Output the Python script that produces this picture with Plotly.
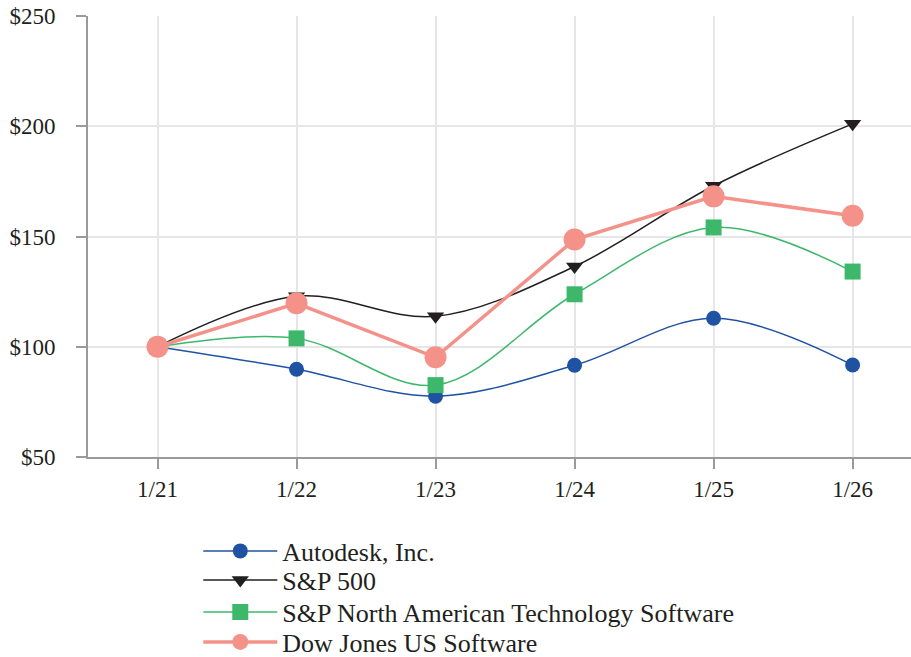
import plotly.graph_objects as go

years = ["1/21", "1/22", "1/23", "1/24", "1/25", "1/26"]
autodesk = [100, 89.8, 77.6, 91.6, 112.9, 91.7]
sp500 = [100, 122.9, 113.8, 136.4, 173.0, 201.1]
sp_na_tech = [100, 103.8, 82.6, 123.8, 154.1, 134.1]
dj_software = [100, 119.7, 95.2, 148.6, 168.2, 159.4]
y_ticks = [50, 100, 150, 200, 250]
y_tick_labels = ["$50", "$100", "$150", "$200", "$250"]

font = "Liberation Serif, Times New Roman, serif"

fig = go.Figure()
fig.add_trace(go.Scatter(x=years, y=autodesk, name="Autodesk, Inc.", mode="lines+markers",
                         line=dict(color="#1f52a3", width=1.5, shape="spline"),
                         marker=dict(symbol="circle", size=15, color="#1f52a3"), legend="legend"))
fig.add_trace(go.Scatter(x=years, y=sp500, name="S&P 500", mode="lines+markers",
                         line=dict(color="#231f20", width=1.5, shape="spline"),
                         marker=dict(symbol="triangle-down", size=15, color="#231f20"), legend="legend2"))
fig.add_trace(go.Scatter(x=years, y=sp_na_tech, name="S&P North American Technology Software", mode="lines+markers",
                         line=dict(color="#3db86b", width=1.5, shape="spline"),
                         marker=dict(symbol="square", size=16, color="#3db86b"), legend="legend3"))
fig.add_trace(go.Scatter(x=years, y=dj_software, name="Dow Jones US Software", mode="lines+markers",
                         line=dict(color="#f4928a", width=3.5),
                         marker=dict(symbol="circle", size=22, color="#f4928a"), legend="legend4"))

plot_top, plot_bottom = 16, 457
plot_h = plot_bottom - plot_top


def legend_at(py):
    return dict(x=0.134, y=(plot_bottom - py) / plot_h, xanchor="left", yanchor="middle",
                orientation="v", font=dict(size=26, family=font, color="#231f20"),
                itemwidth=74, bgcolor="rgba(0,0,0,0)")


fig.update_layout(
    width=911, height=657,
    margin=dict(l=88, r=0, t=plot_top, b=657 - plot_bottom, autoexpand=False),
    paper_bgcolor="white", plot_bgcolor="white",
    font=dict(family=font, size=23, color="#231f20"),
    showlegend=True,
    legend=legend_at(551),
    legend2=legend_at(580),
    legend3=legend_at(612),
    legend4=legend_at(642),
)
fig.update_xaxes(type="category", range=[-0.5, 5.42], showgrid=True, gridcolor="#e6e6e6", gridwidth=1.5,
                 showline=True, linecolor="#9a9a9a", linewidth=2,
                 ticks="outside", ticklen=10, tickcolor="#9a9a9a", tickwidth=2,
                 ticklabelstandoff=0,
                 tickfont=dict(size=23, family=font), zeroline=False)
fig.update_yaxes(range=[50, 250], tickvals=y_ticks, ticktext=y_tick_labels, showgrid=True,
                 gridcolor="#e6e6e6", gridwidth=1.5,
                 showline=True, linecolor="#9a9a9a", linewidth=2,
                 ticks="outside", ticklen=10, tickcolor="#9a9a9a", tickwidth=2,
                 ticklabelstandoff=16,
                 tickfont=dict(size=23, family=font), zeroline=False)

fig.write_html("out.html", config={"displayModeBar": False},
               post_script="document.body.style.margin='0';document.body.style.overflow='hidden';")
